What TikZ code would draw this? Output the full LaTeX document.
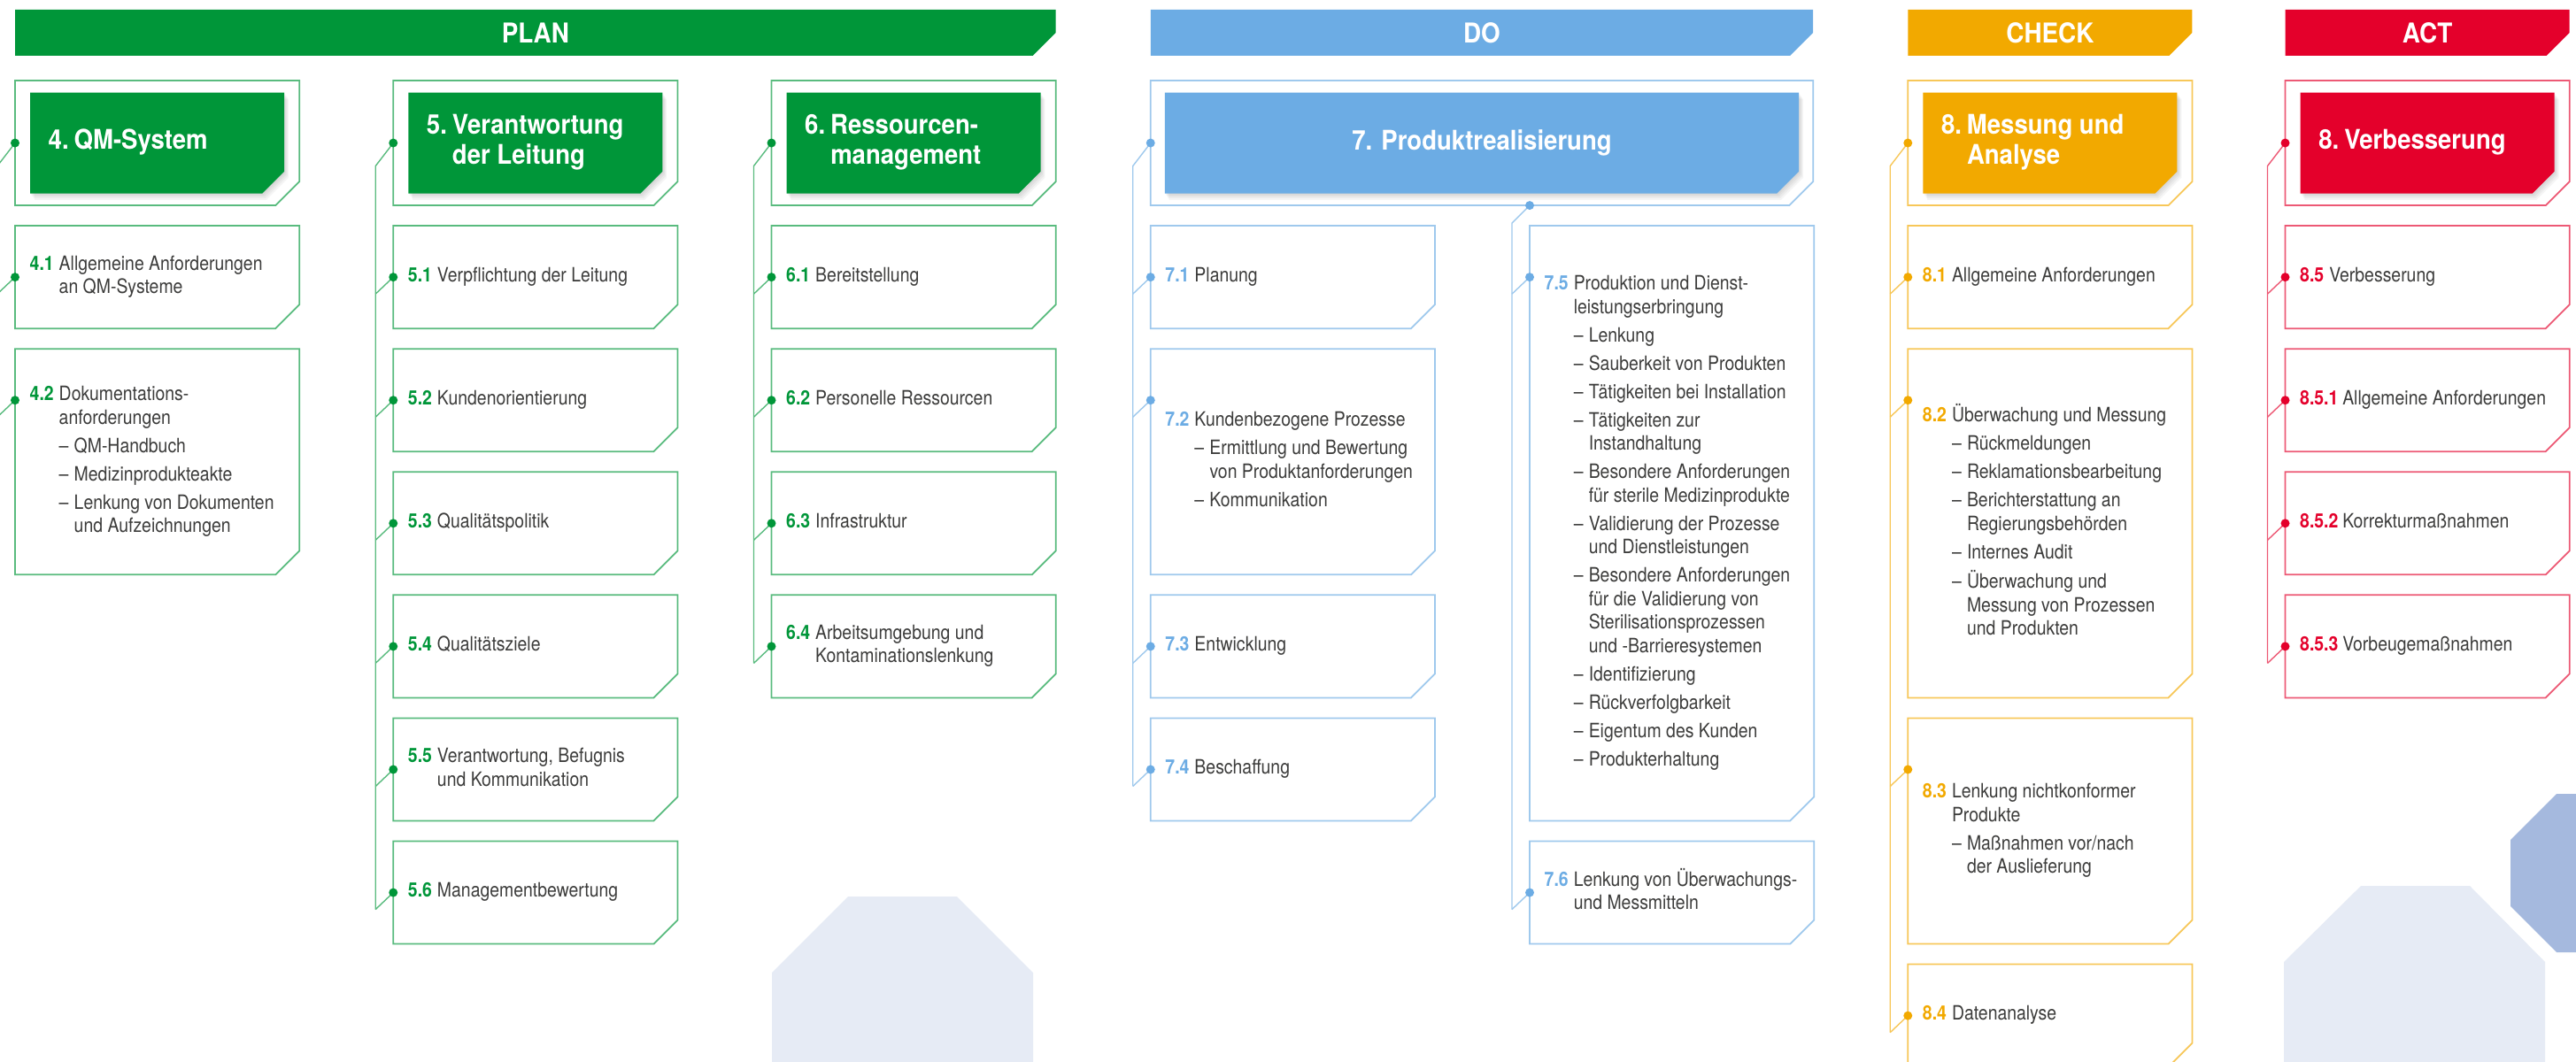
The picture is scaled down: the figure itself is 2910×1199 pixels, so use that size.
\documentclass[tikz,border=0pt]{standalone}
\usepackage{fontspec}
\setmainfont{TeX Gyre Heros}[FakeStretch=0.87]
\newfontfamily\titlefont{TeX Gyre Heros}[FakeStretch=0.9]
\usetikzlibrary{positioning}

\definecolor{plangreen}{RGB}{0,150,57}
\definecolor{doblue}{RGB}{108,172,228}
\definecolor{checkorange}{RGB}{242,169,0}
\definecolor{actred}{RGB}{228,0,43}
\definecolor{txtgray}{RGB}{60,60,59}
\definecolor{hexlight}{RGB}{230,235,245}
\definecolor{hexdark}{RGB}{165,185,222}
\colorlet{cur}{plangreen}

% section number + text with hanging indent
\newcommand{\secnr}[1]{\textcolor{cur}{\bfseries #1}}
\newcommand{\secentry}[3][3.3mm]{\begin{tabular}{@{}p{#1}@{}l@{}}\secnr{#2} & #3\end{tabular}}
\newcommand{\hdtitle}[2]{\begin{tabular}{@{}p{2.9mm}@{}l@{}}#1 & #2\end{tabular}}
\newcommand{\qitem}{\makebox[1.7mm][l]{–}}
\newcommand{\qcont}{\hspace*{1.7mm}}

\begin{document}
\begin{tikzpicture}[
  x=0.01cm, y=-0.01cm,
  node distance = 2.3mm,
  chamf/.style 2 args = {insert path={(#1.north west) -- (#1.north east)
    -- ([yshift=#2]#1.south east) -- ([xshift=-#2]#1.south east) -- (#1.south west) -- cycle}},
  phasebar/.style = {rectangle, inner sep=0pt, outer sep=0pt, minimum height=5.2mm,
    text=white, font=\titlefont\fontsize{8.8}{9.7}\bfseries,
    path picture={\fill[cur, chamf={path picture bounding box}{2.6mm}];}},
  hdr/.style = {rectangle, inner sep=0pt, outer sep=0pt, minimum width=32.1mm, minimum height=14.1mm},
  hdrin/.style = {rectangle, inner sep=0pt, outer sep=0pt, minimum width=28.7mm, minimum height=11.4mm},
  subbox/.style = {rectangle, inner sep=0pt, outer sep=0pt, minimum width=32.1mm},
  h1/.style = {minimum height=11.6mm},
  h2/.style = {minimum height=25.5mm},
  h3/.style = {minimum height=39.4mm},
  h5/.style = {minimum height=67.2mm},
  outl/.style = {draw=cur!65, line width=.5pt},
  shade/.style = {fill=black, opacity=.04},
  ttl/.style = {inner sep=0pt, text=white, font=\titlefont\fontsize{8.7}{9.7}\bfseries},
  txt/.style = {inner sep=0pt, text=txtgray, font=\fontsize{6.35}{7.54}\selectfont},
  conn/.style = {draw=cur!65, line width=.4pt},
  bullet/.style = {fill=cur}
]

\useasboundingbox (0,0) rectangle (2910,1199);
\fill[white] (0,0) rectangle (2910,1199);
\clip (0,0) rectangle (2910,1199);

% background hexagons
\fill[hexlight] (872,1210) -- (872,1099) -- (958,1013) -- (1081,1013) -- (1167,1099) -- (1167,1210) -- cycle;
\fill[hexlight] (2580,1210) -- (2580,1087) -- (2667,1001) -- (2790,1001) -- (2875,1087) -- (2875,1210) -- cycle;
\fill[hexdark] (2920,897) -- (2888,897) -- (2836,949) -- (2836,1024) -- (2888,1076) -- (2920,1076) -- cycle;

% ---------------- PLAN ----------------
\colorlet{cur}{plangreen}
\node[hdr, anchor=north west] (h4) at (17,91) {};
\node[hdr, right=10.6mm of h4] (h5) {};
\node[hdr, right=10.6mm of h5] (h6) {};
\node[phasebar, minimum width=117.5mm, above=2.8mm of h4.north west, anchor=south west] (pplan) {PLAN};

\node[subbox, h1, below=of h4] (b41) {};
\node[subbox, h2, below=of b41] (b42) {};
\node[subbox, h1, below=of h5] (b51) {};
\node[subbox, h1, below=of b51] (b52) {};
\node[subbox, h1, below=of b52] (b53) {};
\node[subbox, h1, below=of b53] (b54) {};
\node[subbox, h1, below=of b54] (b55) {};
\node[subbox, h1, below=of b55] (b56) {};
\node[subbox, h1, below=of h6] (b61) {};
\node[subbox, h1, below=of b61] (b62) {};
\node[subbox, h1, below=of b62] (b63) {};
\node[subbox, h1, below=of b63] (b64) {};

\foreach \b in {h4,h5,h6,b41,b42,b51,b52,b53,b54,b55,b56,b61,b62,b63,b64}
  \draw[outl, chamf={\b}{2.7mm}];
\foreach \h in {4,5,6}{
  \node[hdrin] (hin\h) at (h\h.center) {};
  \foreach \s in {1,...,4}
    \fill[shade, transform canvas={shift={(\s*.12mm,-\s*.18mm)}}, chamf={hin\h}{2.5mm}];
  \fill[cur, chamf={hin\h}{2.5mm}];
}
\node[ttl, right=3.7mm of h4.west] (n4) {\hdtitle{4.}{QM-System}};
\node[ttl, right=3.7mm of h5.west] (n5) {\hdtitle{5.}{Verantwortung\\ & der Leitung}};
\node[ttl, right=3.7mm of h6.west] (n6) {\hdtitle{6.}{Ressourcen-\\ & management}};

\node[txt, right=1.6mm of b41.west] (t41) {\secentry{4.1}{Allgemeine Anforderungen\\ & an QM-Systeme}};
\node[txt, right=1.6mm of b42.west] (t42) {\secentry{4.2}{Dokumentations-\\ & anforderungen\\[.55mm] & \qitem QM-Handbuch\\[.55mm] & \qitem Medizinprodukteakte\\[.55mm] & \qitem Lenkung von Dokumenten\\ & \qcont und Aufzeichnungen}};
\node[txt, right=1.6mm of b51.west] (t51) {\secentry{5.1}{Verpflichtung der Leitung}};
\node[txt, right=1.6mm of b52.west] (t52) {\secentry{5.2}{Kundenorientierung}};
\node[txt, right=1.6mm of b53.west] (t53) {\secentry{5.3}{Qualitätspolitik}};
\node[txt, right=1.6mm of b54.west] (t54) {\secentry{5.4}{Qualitätsziele}};
\node[txt, right=1.6mm of b55.west] (t55) {\secentry{5.5}{Verantwortung, Befugnis\\ & und Kommunikation}};
\node[txt, right=1.6mm of b56.west] (t56) {\secentry{5.6}{Managementbewertung}};
\node[txt, right=1.6mm of b61.west] (t61) {\secentry{6.1}{Bereitstellung}};
\node[txt, right=1.6mm of b62.west] (t62) {\secentry{6.2}{Personelle Ressourcen}};
\node[txt, right=1.6mm of b63.west] (t63) {\secentry{6.3}{Infrastruktur}};
\node[txt, right=1.6mm of b64.west] (t64) {\secentry{6.4}{Arbeitsumgebung und\\ & Kontaminationslenkung}};

\foreach \b in {41,42,51,52,53,54,55,56,61,62,63,64}{
  \draw[conn] ([yshift=-5.8mm]b\b.north west) coordinate (d\b) -- ++(-20,19) coordinate (e\b);
  \fill[bullet] (d\b) circle[radius=.5mm];
}
\draw[conn] (h4.west) -- ++(-20,26) coordinate (k4) -- (k4 |- e42);
\draw[conn] (h5.west) -- ++(-20,26) coordinate (k5) -- (k5 |- e56);
\draw[conn] (h6.west) -- ++(-20,26) coordinate (k6) -- (k6 |- e64);
\foreach \h in {4,5,6} \fill[bullet] (h\h.west) circle[radius=.5mm];

% ---------------- DO ----------------
\colorlet{cur}{doblue}
\node[hdr, minimum width=74.8mm, right=10.7mm of h6] (h7) {};
\node[phasebar, minimum width=74.8mm, above=2.8mm of h7.north west, anchor=south west] (pdo) {DO};

\node[subbox, h1, below=of h7.south west, anchor=north west] (b71) {};
\node[subbox, h2, below=of b71] (b72) {};
\node[subbox, h1, below=of b72] (b73) {};
\node[subbox, h1, below=of b73] (b74) {};
\node[subbox, h5, right=10.7mm of b71.north east, anchor=north west] (b75) {};
\node[subbox, h1, below=of b75] (b76) {};

\foreach \b in {h7,b71,b72,b73,b74,b75,b76}
  \draw[outl, chamf={\b}{2.7mm}];
\node[hdrin, minimum width=71.6mm] (hin7) at (h7.center) {};
\foreach \s in {1,...,4}
  \fill[shade, transform canvas={shift={(\s*.12mm,-\s*.18mm)}}, chamf={hin7}{2.5mm}];
\fill[cur, chamf={hin7}{2.5mm}];
\node[ttl] (n7) at (hin7.center) {7. Produktrealisierung};

\node[txt, right=1.6mm of b71.west] (t71) {\secentry{7.1}{Planung}};
\node[txt, right=1.6mm of b72.west] (t72) {\secentry{7.2}{Kundenbezogene Prozesse\\[.55mm] & \qitem Ermittlung und Bewertung\\ & \qcont von Produktanforderungen\\[.55mm] & \qitem Kommunikation}};
\node[txt, right=1.6mm of b73.west] (t73) {\secentry{7.3}{Entwicklung}};
\node[txt, right=1.6mm of b74.west] (t74) {\secentry{7.4}{Beschaffung}};
\node[txt, right=1.6mm of b75.west] (t75) {\secentry{7.5}{Produktion und Dienst-\\ & leistungserbringung\\[.55mm] & \qitem Lenkung\\[.55mm] & \qitem Sauberkeit von Produkten\\[.55mm] & \qitem Tätigkeiten bei Installation\\[.55mm] & \qitem Tätigkeiten zur\\ & \qcont Instandhaltung\\[.55mm] & \qitem Besondere Anforderungen\\ & \qcont für sterile Medizinprodukte\\[.55mm] & \qitem Validierung der Prozesse\\ & \qcont und Dienstleistungen\\[.55mm] & \qitem Besondere Anforderungen\\ & \qcont für die Validierung von\\ & \qcont Sterilisationsprozessen\\ & \qcont und -Barrieresystemen\\[.55mm] & \qitem Identifizierung\\[.55mm] & \qitem Rückverfolgbarkeit\\[.55mm] & \qitem Eigentum des Kunden\\[.55mm] & \qitem Produkterhaltung}};
\node[txt, right=1.6mm of b76.west] (t76) {\secentry{7.6}{Lenkung von Überwachungs-\\ & und Messmitteln}};

\foreach \b in {71,72,73,74,75,76}{
  \draw[conn] ([yshift=-5.8mm]b\b.north west) coordinate (d\b) -- ++(-20,19) coordinate (e\b);
  \fill[bullet] (d\b) circle[radius=.5mm];
}
\draw[conn] (h7.west) -- ++(-20,26) coordinate (k7) -- (k7 |- e74);
\fill[bullet] (h7.west) circle[radius=.5mm];
\draw[conn] (h7.south -| b75.west) coordinate (d7b) -- ++(-20,20) coordinate (k7b) -- (k7b |- e76);
\fill[bullet] (d7b) circle[radius=.5mm];

% ---------------- CHECK ----------------
\colorlet{cur}{checkorange}
\node[hdr, right=10.7mm of h7] (h8) {};
\node[phasebar, minimum width=32.1mm, above=2.8mm of h8.north west, anchor=south west] (pcheck) {CHECK};

\node[subbox, h1, below=of h8] (b81) {};
\node[subbox, h3, below=of b81] (b82) {};
\node[subbox, h2, below=of b82] (b83) {};
\node[subbox, h1, below=of b83] (b84) {};

\foreach \b in {h8,b81,b82,b83,b84}
  \draw[outl, chamf={\b}{2.7mm}];
\node[hdrin] (hin8) at (h8.center) {};
\foreach \s in {1,...,4}
  \fill[shade, transform canvas={shift={(\s*.12mm,-\s*.18mm)}}, chamf={hin8}{2.5mm}];
\fill[cur, chamf={hin8}{2.5mm}];
\node[ttl, right=3.7mm of h8.west] (n8) {\hdtitle{8.}{Messung und\\ & Analyse}};

\node[txt, right=1.6mm of b81.west] (t81) {\secentry{8.1}{Allgemeine Anforderungen}};
\node[txt, right=1.6mm of b82.west] (t82) {\secentry{8.2}{Überwachung und Messung\\[.55mm] & \qitem Rückmeldungen\\[.55mm] & \qitem Reklamationsbearbeitung\\[.55mm] & \qitem Berichterstattung an\\ & \qcont Regierungsbehörden\\[.55mm] & \qitem Internes Audit\\[.55mm] & \qitem Überwachung und\\ & \qcont Messung von Prozessen\\ & \qcont und Produkten}};
\node[txt, right=1.6mm of b83.west] (t83) {\secentry{8.3}{Lenkung nichtkonformer\\ & Produkte\\[.55mm] & \qitem Maßnahmen vor/nach\\ & \qcont der Auslieferung}};
\node[txt, right=1.6mm of b84.west] (t84) {\secentry{8.4}{Datenanalyse}};

\foreach \b in {81,82,83,84}{
  \draw[conn] ([yshift=-5.8mm]b\b.north west) coordinate (d\b) -- ++(-20,19) coordinate (e\b);
  \fill[bullet] (d\b) circle[radius=.5mm];
}
\draw[conn] (h8.west) -- ++(-20,26) coordinate (k8) -- (k8 |- e84);
\fill[bullet] (h8.west) circle[radius=.5mm];

% ---------------- ACT ----------------
\colorlet{cur}{actred}
\node[hdr, right=10.5mm of h8] (h9) {};
\node[phasebar, minimum width=32.1mm, above=2.8mm of h9.north west, anchor=south west] (pact) {ACT};

\node[subbox, h1, below=of h9] (b85) {};
\node[subbox, h1, below=of b85] (b851) {};
\node[subbox, h1, below=of b851] (b852) {};
\node[subbox, h1, below=of b852] (b853) {};

\foreach \b in {h9,b85,b851,b852,b853}
  \draw[outl, chamf={\b}{2.7mm}];
\node[hdrin] (hin9) at (h9.center) {};
\foreach \s in {1,...,4}
  \fill[shade, transform canvas={shift={(\s*.12mm,-\s*.18mm)}}, chamf={hin9}{2.5mm}];
\fill[cur, chamf={hin9}{2.5mm}];
\node[ttl, right=3.7mm of h9.west] (n9) {\hdtitle{8.}{Verbesserung}};

\node[txt, right=1.6mm of b85.west] (t85) {\secentry{8.5}{Verbesserung}};
\node[txt, right=1.6mm of b851.west] (t851) {\secentry[4.8mm]{8.5.1}{Allgemeine Anforderungen}};
\node[txt, right=1.6mm of b852.west] (t852) {\secentry[4.8mm]{8.5.2}{Korrekturmaßnahmen}};
\node[txt, right=1.6mm of b853.west] (t853) {\secentry[4.8mm]{8.5.3}{Vorbeugemaßnahmen}};

\foreach \b in {85,851,852,853}{
  \draw[conn] ([yshift=-5.8mm]b\b.north west) coordinate (d\b) -- ++(-20,19) coordinate (e\b);
  \fill[bullet] (d\b) circle[radius=.5mm];
}
\draw[conn] (h9.west) -- ++(-20,26) coordinate (k9) -- (k9 |- e853);
\fill[bullet] (h9.west) circle[radius=.5mm];

\end{tikzpicture}
\end{document}
